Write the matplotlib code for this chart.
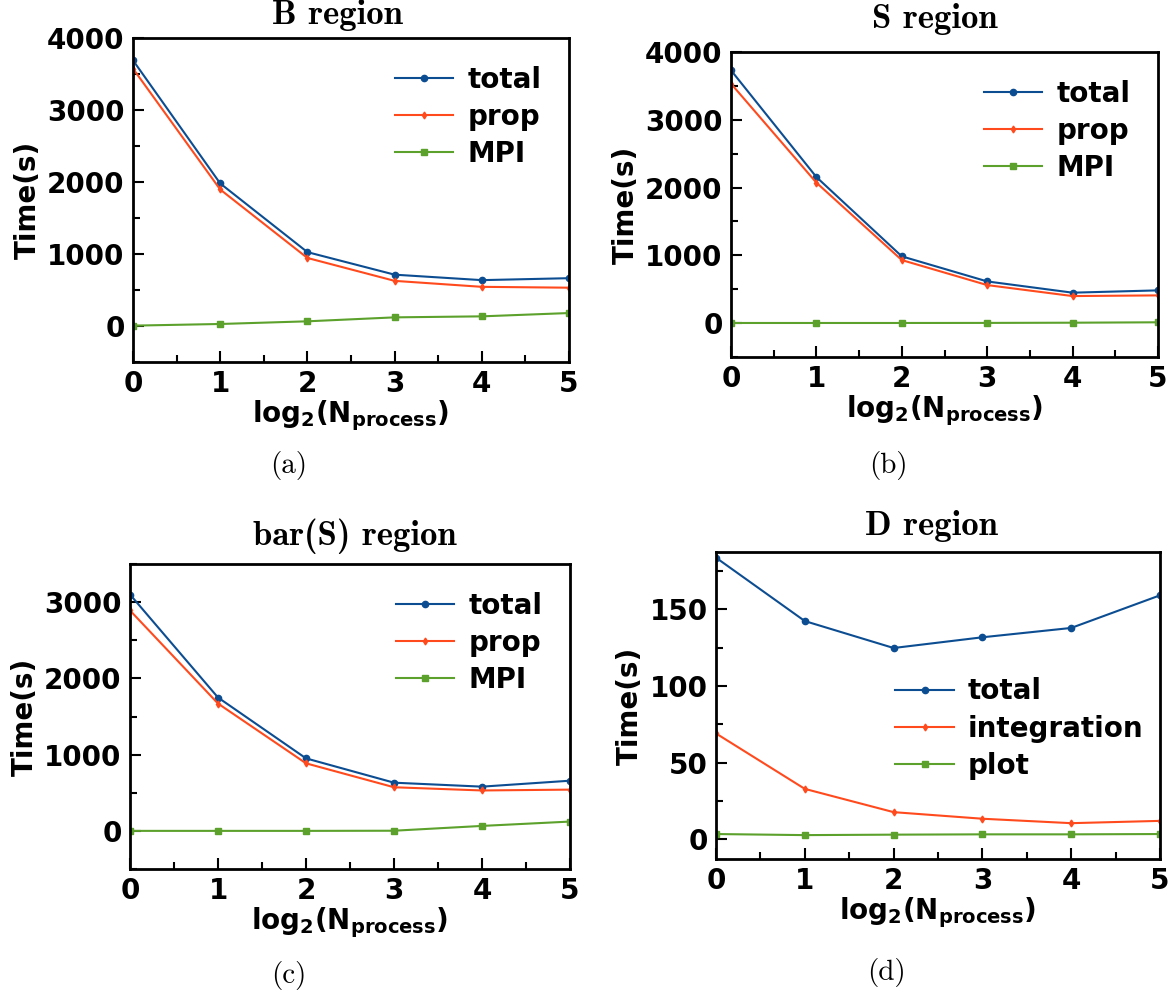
import matplotlib
matplotlib.use("Agg")
import matplotlib.pyplot as plt
from matplotlib.ticker import MultipleLocator

plt.rcParams['mathtext.fontset'] = 'dejavusans'
plt.rcParams['axes.unicode_minus'] = False

# x values: log2 of number of processes
x = [0, 1, 2, 3, 4, 5]

# B region
b_total = [3690, 1980, 1026, 713, 637, 664]
b_prop = [3575, 1896, 945, 627, 544, 532]
b_mpi = [5, 28, 65, 120, 134, 180]

# S region
s_total = [3730, 2155, 985, 615, 449, 483]
s_prop = [3533, 2072, 930, 561, 399, 409]
s_mpi = [2, 2, 2, 3, 6, 12]

# bar(S) region
c_total = [3100, 1749, 951, 632, 580, 658]
c_prop = [2891, 1670, 886, 572, 530, 541]
c_mpi = [0, 0, 0, 2, 65, 122]

# D region
d_total = [183.8, 142.4, 124.8, 131.8, 137.9, 159.2]
d_integ = [69.0, 32.8, 17.6, 13.3, 10.4, 11.9]
d_plot = [3.3, 2.6, 2.9, 3.1, 3.1, 3.3]

titles = ['B region', 'S region', 'bar(S) region', 'D region']
captions = ['(a)', '(b)', '(c)', '(d)']

c_blue = '#0c4d92'
c_red = '#ff4a1e'
c_green = '#5ba12b'

W, H = 1172, 996
fig = plt.figure(figsize=(W / 100, H / 100), dpi=100)


def px_axes(left, right, top, bottom):
    return fig.add_axes([left / W, 1 - bottom / H, (right - left) / W, (bottom - top) / H])


def style(ax, ylim, major, minor):
    ax.set_xlim(0, 5)
    ax.set_ylim(*ylim)
    ax.xaxis.set_major_locator(MultipleLocator(1))
    ax.xaxis.set_minor_locator(MultipleLocator(0.5))
    ax.yaxis.set_major_locator(MultipleLocator(major))
    ax.yaxis.set_minor_locator(MultipleLocator(minor))
    ax.tick_params(which='both', direction='in', top=False, right=False,
                   labelsize=20, width=1.5)
    ax.tick_params(which='major', length=8, pad=6)
    ax.tick_params(which='minor', length=5)
    for lab in ax.get_xticklabels() + ax.get_yticklabels():
        lab.set_fontweight('bold')
    for sp in ax.spines.values():
        sp.set_linewidth(2)
    ax.set_xlabel(r'$\mathbf{log_2(N_{process})}$', fontsize=20, labelpad=0)
    ax.set_ylabel('Time(s)', fontsize=20, fontweight='bold', labelpad=4)


def draw(ax, s1, s2, s3, names):
    ax.plot(x, s1, color=c_blue, marker='o', markersize=4.5, lw=1.5, label=names[0])
    ax.plot(x, s2, color=c_red, marker='d', markersize=3.5, lw=1.5, label=names[1])
    ax.plot(x, s3, color=c_green, marker='s', markersize=5, lw=1.5, label=names[2])


ax_a = px_axes(133, 569, 38, 362)
draw(ax_a, b_total, b_prop, b_mpi, ['total', 'prop', 'MPI'])
style(ax_a, (-500, 4000), 1000, 500)

ax_b = px_axes(731, 1158, 52, 357)
draw(ax_b, s_total, s_prop, s_mpi, ['total', 'prop', 'MPI'])
style(ax_b, (-500, 4000), 1000, 500)

ax_c = px_axes(130, 570, 564, 869)
draw(ax_c, c_total, c_prop, c_mpi, ['total', 'prop', 'MPI'])
style(ax_c, (-500, 3500), 1000, 500)

ax_d = px_axes(716, 1160, 552, 859)
draw(ax_d, d_total, d_integ, d_plot, ['total', 'integration', 'plot'])
style(ax_d, (-13, 187.5), 50, 25)

for ax in [ax_a, ax_b, ax_c]:
    ax.legend(loc='upper right', frameon=False, prop={'size': 20, 'weight': 'bold'},
              handlelength=2.1, handletextpad=0.5, labelspacing=0.33,
              borderaxespad=0.6)
ax_d.legend(loc='center right', bbox_to_anchor=(1.0, 0.425), frameon=False,
            prop={'size': 20, 'weight': 'bold'}, handlelength=2.1,
            handletextpad=0.5, labelspacing=0.33, borderaxespad=0.2)

# titles and captions, placed in pixel coordinates
title_pos = [(337, 15), (935, 19), (355, 536), (931, 526)]
cap_pos = [(289, 465), (888, 465), (289, 975), (887, 972)]
for t, (tx, ty) in zip(titles, title_pos):
    fig.text(tx / W, 1 - ty / H, t, fontsize=25, family='cmb10', ha='center', va='center')
for c, (cx, cy) in zip(captions, cap_pos):
    fig.text(cx / W, 1 - cy / H, c, fontsize=21, family='cmr10', ha='center', va='center')

plt.savefig('out.png', dpi=100)
